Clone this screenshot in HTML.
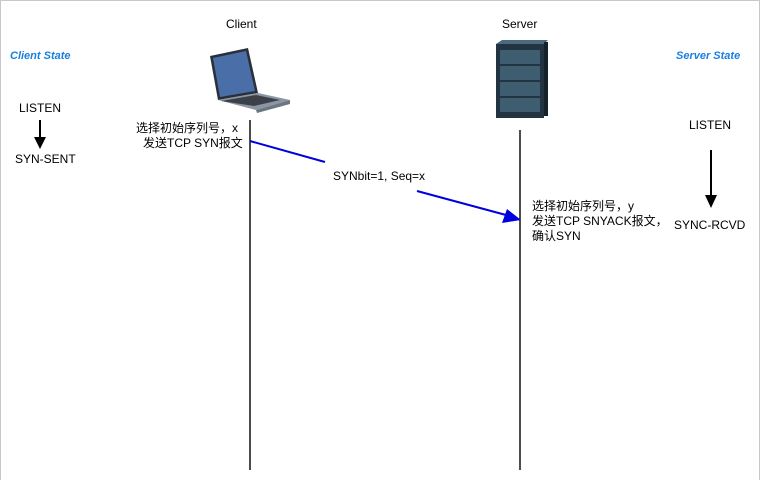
<!DOCTYPE html>
<html><head><meta charset="utf-8"><style>
html,body{margin:0;padding:0;background:#fff;}
svg{display:block;}
text{font-family:"Liberation Sans","Noto Sans CJK SC",sans-serif;font-size:12px;fill:#000;}
</style></head><body>
<svg width="761" height="480" viewBox="0 0 761 480" xmlns="http://www.w3.org/2000/svg">
<rect x="0.5" y="0.5" width="759" height="490" fill="none" stroke="#c8c8c8"/>
<text x="10" y="59" style="font-style:italic;font-weight:bold;fill:#1a7fe0;font-size:11px">Client State</text>
<text x="676" y="59" style="font-style:italic;font-weight:bold;fill:#1a7fe0;font-size:11px">Server State</text>
<text x="19" y="112" font-size="12">LISTEN</text>
<line x1="40" y1="120" x2="40" y2="140" stroke="#000" stroke-width="2"/>
<polygon points="34,137 46,137 40,149" fill="#000"/>
<text x="15" y="163">SYN-SENT</text>
<text x="689" y="129">LISTEN</text>
<line x1="711" y1="150" x2="711" y2="198" stroke="#000" stroke-width="2"/>
<polygon points="705,195 717,195 711,208" fill="#000"/>
<text x="674" y="229">SYNC-RCVD</text>
<text x="226" y="28">Client</text>
<text x="502" y="28">Server</text>
<!-- laptop -->
<polygon points="210,56 248,48 258,93 218,100" fill="#2a2f3a"/>
<polygon points="213,58 246,51 255,91 220,97" fill="#4a6fa8"/>
<polygon points="218,100 258,93 290,100 256,110" fill="#8b96a3"/>
<polygon points="221,101 256,95 280,100 254,106" fill="#3c4149"/>
<polygon points="256,110 290,100 290,104 257,113" fill="#6c7681"/>
<!-- server -->
<rect x="496" y="44" width="48" height="74" fill="#223441"/>
<polygon points="496,44 502,40 548,40 544,44" fill="#4b6a80"/>
<rect x="544" y="42" width="4" height="74" fill="#14222c"/>
<rect x="500" y="50" width="40" height="14" fill="#3f5d70"/>
<rect x="500" y="66" width="40" height="14" fill="#3f5d70"/>
<rect x="500" y="82" width="40" height="14" fill="#3f5d70"/>
<rect x="500" y="98" width="40" height="14" fill="#3f5d70"/>
<line x1="250" y1="120" x2="250" y2="470" stroke="#000" stroke-width="1.4"/>
<line x1="520" y1="130" x2="520" y2="470" stroke="#000" stroke-width="1.4"/>
<text x="136" y="132">选择初始序列号，x</text>
<text x="143" y="147">发送TCP SYN报文</text>
<text x="532" y="210">选择初始序列号，y</text>
<text x="532" y="225">发送TCP SNYACK报文，</text>
<text x="532" y="240">确认SYN</text>
<line x1="250" y1="141" x2="325" y2="162" stroke="#0000dd" stroke-width="2"/>
<line x1="417" y1="191" x2="506" y2="215" stroke="#0000dd" stroke-width="2"/>
<polygon points="521,220 502,223 507,209" fill="#0000dd"/>
<text x="333" y="180">SYNbit=1, Seq=x</text>
</svg>
</body></html>
